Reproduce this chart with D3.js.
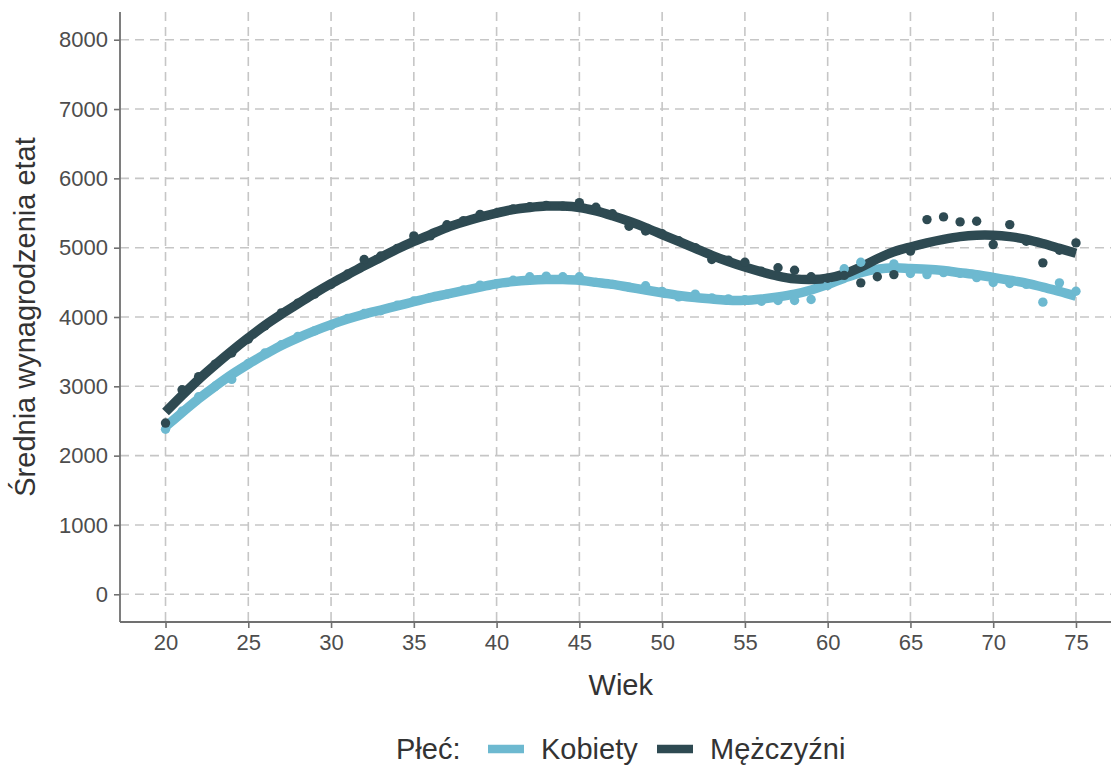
<!DOCTYPE html>
<html>
<head>
<meta charset="utf-8">
<script src="https://cdn.jsdelivr.net/npm/d3@7"></script>
<style>
  body { margin: 0; background: #fff; }
  svg text { font-family: "Liberation Sans", Arial, sans-serif; }
</style>
</head>
<body>
<svg id="chart" width="1111" height="766"></svg>
<script>
// ages on the x axis
const ages = d3.range(20, 76);

// observed averages (points)
const kobietyPts = [2380, 2640, 2850, 3000, 3100, 3330, 3480, 3600, 3720, 3800,
  3880, 3980, 4050, 4090, 4170, 4230, 4280, 4330, 4390, 4460,
  4480, 4530, 4580, 4590, 4580, 4580, 4500, 4470, 4430, 4450,
  4370, 4290, 4330, 4276, 4262, 4250, 4228, 4238, 4238, 4252,
  4454, 4695, 4790, 4680, 4766, 4627, 4612, 4641, 4630, 4569,
  4497, 4483, 4470, 4214, 4493, 4372];
const mezczyzniPts = [2470, 2950, 3140, 3320, 3480, 3680, 3870, 4060, 4200, 4330,
  4470, 4620, 4830, 4880, 4990, 5170, 5170, 5330, 5390, 5480,
  5500, 5560, 5590, 5610, 5600, 5650, 5583, 5490, 5310, 5240,
  5200, 5100, 5000, 4830, 4820, 4790, 4660, 4710, 4675, 4580,
  4560, 4600, 4493, 4580, 4612, 4950, 5405, 5444, 5372, 5381,
  5045, 5333, 5093, 4781, 4963, 5069];

// smoothed trend
const kobietySmooth = [2420, 2620, 2820, 3000, 3170, 3320, 3460, 3590, 3700, 3800,
  3890, 3970, 4040, 4100, 4160, 4220, 4280, 4330, 4380, 4430,
  4480, 4510, 4530, 4540, 4540, 4530, 4500, 4470, 4430, 4390,
  4350, 4310, 4280, 4260, 4240, 4240, 4260, 4290, 4330, 4390,
  4470, 4560, 4640, 4690, 4710, 4700, 4690, 4670, 4640, 4610,
  4570, 4530, 4490, 4430, 4370, 4300];
const mezczyzniSmooth = [2630, 2870, 3100, 3310, 3510, 3700, 3880, 4040, 4190, 4340,
  4480, 4610, 4740, 4860, 4980, 5090, 5190, 5290, 5370, 5440,
  5500, 5550, 5580, 5600, 5600, 5580, 5530, 5460, 5380, 5290,
  5190, 5090, 4990, 4890, 4800, 4720, 4650, 4590, 4550, 4540,
  4560, 4620, 4720, 4840, 4940, 5010, 5070, 5120, 5160, 5180,
  5180, 5160, 5120, 5060, 4990, 4920];

const xTicks = [20, 25, 30, 35, 40, 45, 50, 55, 60, 65, 70, 75];
const yTicks = [0, 1000, 2000, 3000, 4000, 5000, 6000, 7000, 8000];

const seriesNames = ["Kobiety", "Mężczyźni"];
const colors = ["#6db9d0", "#2e4a52"];

const svg = d3.select("#chart");
const padLeft = 120, padRight = 1121.5, padTop = 12, padBottom = 622;

const x = d3.scaleLinear().domain([17.25, 77.75]).range([padLeft, padRight]);
const y = d3.scaleLinear().domain([-400, 8400]).range([padBottom, padTop]);

// grid
const grid = svg.append("g");
grid.selectAll(".gx").data(xTicks).enter().append("line")
  .attr("x1", d => x(d)).attr("x2", d => x(d))
  .attr("y1", padTop).attr("y2", padBottom)
  .attr("stroke", "#c6c6c6").attr("stroke-width", 1.6)
  .attr("stroke-dasharray", "9,6");
grid.selectAll(".gy").data(yTicks).enter().append("line")
  .attr("x1", padLeft).attr("x2", 1111)
  .attr("y1", d => y(d)).attr("y2", d => y(d))
  .attr("stroke", "#c6c6c6").attr("stroke-width", 1.6)
  .attr("stroke-dasharray", "9,6");

// axes
const xAxis = svg.append("g").attr("transform", `translate(0,${padBottom})`)
  .call(d3.axisBottom(x).tickValues(xTicks).tickSize(6).tickPadding(6));
const yAxis = svg.append("g").attr("transform", `translate(${padLeft},0)`)
  .call(d3.axisLeft(y).tickValues(yTicks).tickFormat(d3.format("d")).tickSize(6).tickPadding(6));
[xAxis, yAxis].forEach(a => {
  a.select(".domain").remove();
  a.selectAll(".tick line").attr("stroke", "#707070").attr("stroke-width", 1.6);
  a.selectAll(".tick text").attr("fill", "#4d4d4d").style("font-size", "22px");
});
svg.append("line").attr("x1", padLeft).attr("x2", 1111).attr("y1", padBottom).attr("y2", padBottom)
  .attr("stroke", "#707070").attr("stroke-width", 1.8);
svg.append("line").attr("x1", padLeft).attr("x2", padLeft).attr("y1", padTop).attr("y2", padBottom)
  .attr("stroke", "#707070").attr("stroke-width", 1.8);

// smooth lines
const line = d3.line()
  .x((d, i) => x(ages[i]))
  .y(d => y(d))
  .curve(d3.curveCatmullRom.alpha(0.5));
[kobietySmooth, mezczyzniSmooth].forEach((s, k) => {
  svg.append("path").datum(s)
    .attr("d", line)
    .attr("fill", "none")
    .attr("stroke", colors[k])
    .attr("stroke-width", 9.5);
});

// points
[kobietyPts, mezczyzniPts].forEach((s, k) => {
  svg.append("g").selectAll("circle").data(s).enter().append("circle")
    .attr("cx", (d, i) => x(ages[i]))
    .attr("cy", d => y(d))
    .attr("r", 4.7)
    .attr("fill", colors[k]);
});

// titles
svg.append("text")
  .attr("x", x(47.5)).attr("y", 695)
  .attr("text-anchor", "middle")
  .attr("fill", "#333").style("font-size", "29px")
  .text("Wiek");
svg.append("text")
  .attr("transform", `translate(35,${(padTop + padBottom) / 2}) rotate(-90)`)
  .attr("text-anchor", "middle")
  .attr("fill", "#333").style("font-size", "29px")
  .text("Średnia wynagrodzenia etat");

// legend
const legend = svg.append("g");
legend.append("text").attr("x", 396).attr("y", 759)
  .attr("fill", "#333").style("font-size", "29px").text("Płeć:");
const keyX = [488, 657];
seriesNames.forEach((n, k) => {
  legend.append("line")
    .attr("x1", keyX[k]).attr("x2", keyX[k] + 36)
    .attr("y1", 749).attr("y2", 749)
    .attr("stroke", colors[k]).attr("stroke-width", 8.5);
  legend.append("text").attr("x", keyX[k] + 53).attr("y", 759)
    .attr("fill", "#333").style("font-size", "29px").text(n);
});
</script>
</body>
</html>
